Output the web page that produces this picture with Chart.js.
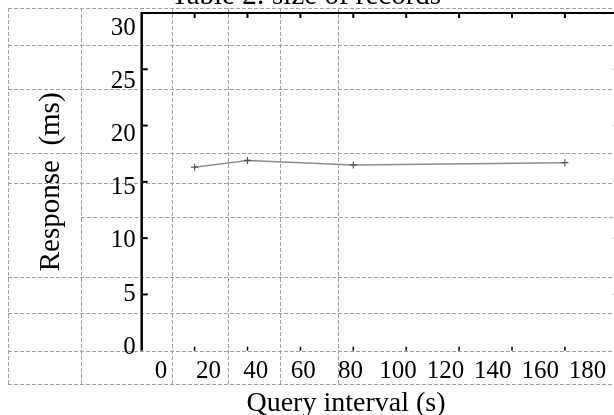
<!DOCTYPE html>
<html>
<head>
<meta charset="utf-8">
<script src="https://cdn.jsdelivr.net/npm/chart.js@4.4.1/dist/chart.umd.min.js"></script>
<style>
  html, body { margin: 0; padding: 0; background: #fff; overflow: hidden; }
  #wrap { position: relative; width: 614px; height: 415px; overflow: hidden; }
  #table { position: absolute; left: 0; top: 0; width: 640px; height: 415px; }
  #chartBox { position: absolute; left: 0; top: 0; width: 640px; height: 415px; }
  .hline { position: absolute; height: 1px; background: repeating-linear-gradient(to right, #a0a0a0 0 4px, transparent 4px 6px); }
  .vline { position: absolute; width: 1px; background: repeating-linear-gradient(to bottom, #a0a0a0 0 4px, transparent 4px 6px); }
  .caption { position: absolute; font-family: 'Liberation Serif', 'Times New Roman', serif; color: #000; white-space: nowrap; line-height: 1; }
</style>
</head>
<body>
<div id="wrap">
  <div id="table"></div>
  <div id="chartBox"><canvas id="responseChart"></canvas></div>
  <div class="caption" style="left:171px; top:-20px; font-size:29px;">Table 2: size of records</div>
  <div class="caption" style="left:246px; width:200px; text-align:center; top:388px; font-size:28px;">Query interval (s)</div>
</div>
<script>
// chart data
const queryInterval = [20, 40, 80, 160];
const responseMs = [16.3, 16.9, 16.5, 16.7];
const xTickLabels = ['0', '20', '40', '60', '80', '100', '120', '140', '160', '180'];
const yTickLabels = ['0', '5', '10', '15', '20', '25', '30'];

// dashed table the chart sits in (page layout, not data)
const tableRows = [7.5, 45, 89, 153, 183, 277, 313, 351, 384];
const tableInnerRow = 217;
const tableCols = [7.5, 80.7, 171.7, 227.7, 280, 338];

const table = document.getElementById('table');
function addLine(cls, left, top, size) {
  const el = document.createElement('div');
  el.className = cls;
  el.style.left = left + 'px';
  el.style.top = top + 'px';
  if (cls === 'hline') el.style.width = size + 'px';
  else el.style.height = size + 'px';
  table.appendChild(el);
}
tableRows.forEach(y => addLine('hline', tableCols[0], y, 640 - tableCols[0]));
addLine('hline', tableCols[1], tableInnerRow, 640 - tableCols[1]);
tableCols.forEach(x => addLine('vline', x, tableRows[0], tableRows[tableRows.length - 1] - tableRows[0] + 1));

Chart.defaults.font.family = "'Liberation Serif', 'Times New Roman', serif";
Chart.defaults.color = '#000';

// box around the plot with inward tick marks
const framePlugin = {
  id: 'frame',
  afterDatasetsDraw(chart) {
    const { ctx, chartArea: a, scales: { x, y } } = chart;
    const seg = (x1, y1, x2, y2) => { ctx.beginPath(); ctx.moveTo(x1, y1); ctx.lineTo(x2, y2); ctx.stroke(); };
    ctx.save();
    ctx.strokeStyle = '#000';
    x.ticks.forEach(t => {
      if (t.value <= x.min) return;
      const px = x.getPixelForValue(t.value);
      ctx.lineWidth = 2;
      seg(px, a.top, px, a.top + 5);
      ctx.lineWidth = 1.5;
      seg(px, a.bottom, px, a.bottom - 4);
    });
    y.ticks.forEach(t => {
      if (t.value <= y.min || t.value >= y.max) return;
      const py = y.getPixelForValue(t.value);
      ctx.lineWidth = 2;
      seg(a.left, py, a.left + 6, py);
      seg(a.right, py, a.right - 4, py);
    });
    ctx.lineWidth = 2;
    seg(a.left, a.top, a.right, a.top);
    ctx.lineWidth = 2.5;
    seg(a.left, a.top - 1, a.left, a.bottom);
    ctx.restore();
  }
};

new Chart(document.getElementById('responseChart'), {
  type: 'line',
  data: {
    datasets: [{
      data: queryInterval.map((q, i) => ({ x: q, y: responseMs[i] })),
      borderColor: '#8c8c8c',
      borderWidth: 1.5,
      pointStyle: 'cross',
      pointRadius: 3.5,
      pointBorderColor: '#555',
      pointBorderWidth: 1.2,
      tension: 0,
      fill: false
    }]
  },
  options: {
    responsive: true,
    maintainAspectRatio: false,
    animation: false,
    layout: { padding: { left: 0, right: 22.2, top: 13, bottom: 0 } },
    plugins: { legend: { display: false }, tooltip: { enabled: false } },
    scales: {
      x: { type: 'linear', display: false, min: 0, max: 180, ticks: { stepSize: 20 } },
      y: { type: 'linear', display: false, min: 0, max: 30, ticks: { stepSize: 5 } },
      // label axes, placed where the source figure prints its numbers
      xLabels: {
        type: 'linear', position: 'bottom', bounds: 'data', min: -8.14, max: 192.74,
        grid: { display: false, drawTicks: false }, border: { display: false },
        afterBuildTicks: s => { s.ticks = xTickLabels.map(v => ({ value: Number(v) })); },
        ticks: {
          autoSkip: false, maxRotation: 0, padding: 6, font: { size: 25 }, color: '#000',
          callback: (v, i) => xTickLabels[i]
        },
        afterFit: s => { s.height = 64.3; s.paddingLeft = 0; s.paddingRight = 0; }
      },
      yLabels: {
        type: 'linear', position: 'left', bounds: 'data', min: -0.34, max: 31.47,
        grid: { display: false, drawTicks: false }, border: { display: false },
        afterBuildTicks: s => { s.ticks = yTickLabels.map(v => ({ value: Number(v) })); },
        ticks: {
          padding: 6, font: { size: 25 }, color: '#000',
          callback: (v, i) => yTickLabels[i]
        },
        title: { display: true, text: 'Response  (ms)', font: { size: 29 }, color: '#000', padding: { top: 34, bottom: 0 } },
        afterFit: s => { s.width = 141.7; s.paddingTop = 0; s.paddingBottom = 0; }
      }
    }
  },
  plugins: [framePlugin]
});
</script>
</body>
</html>
